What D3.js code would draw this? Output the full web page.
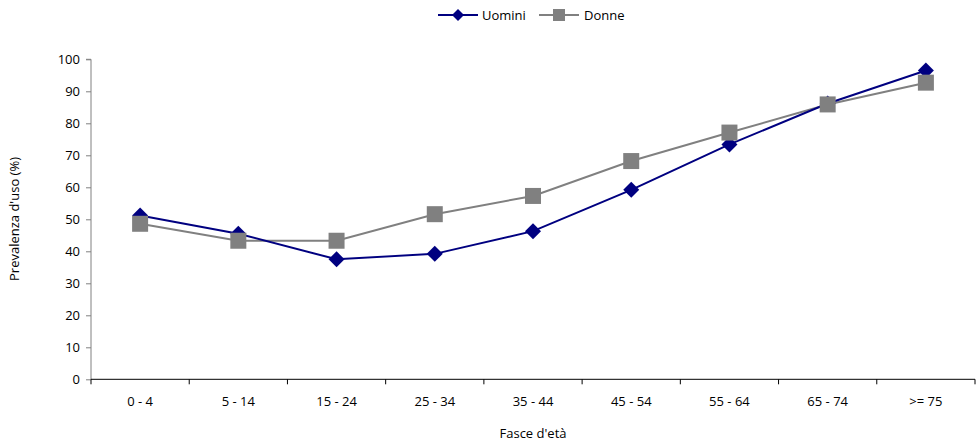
<!DOCTYPE html>
<html><head><meta charset="utf-8">
<script src="https://cdn.jsdelivr.net/npm/d3@7"></script>
<style>body{margin:0;background:#fff}svg{display:block}text{font-family:"Open Sans",sans-serif;fill:#000}</style>
</head><body>
<svg id="c" width="976" height="442"></svg>
<script>
const categories = ["0 - 4","5 - 14","15 - 24","25 - 34","35 - 44","45 - 54","55 - 64","65 - 74",">= 75"];
const uomini = [51.2, 45.5, 37.5, 39.2, 46.3, 59.2, 73.4, 86.2, 96.5];
const donne  = [48.6, 43.3, 43.3, 51.6, 57.3, 68.2, 77.1, 85.9, 92.7];
const yTicks = [0,10,20,30,40,50,60,70,80,90,100];
const seriesNames = ["Uomini","Donne"];

const FF = "'Open Sans',sans-serif";
const FS = 13;
const svg = d3.select("#c");
const L = 91, R = 975, T = 59.3, B = 379.3;
const x = d3.scaleBand().domain(categories).range([L, R]);
const y = d3.scaleLinear().domain([0,100]).range([B, T]);

// y axis
const ya = svg.append("g").attr("transform",`translate(${L},0)`)
  .call(d3.axisLeft(y).tickValues(yTicks).tickSize(5).tickPadding(6));
ya.select(".domain").attr("stroke","#808080").attr("d",`M-5,${T}H0V${B}`);
ya.selectAll(".tick line").attr("stroke","#808080");
ya.selectAll(".tick text").attr("font-size",FS).style("font-family",FF);

// x axis
const xa = svg.append("g").attr("transform",`translate(0,${B})`)
  .call(d3.axisBottom(x).tickSize(0).tickPadding(17));
xa.select(".domain").attr("stroke","#000").attr("d",`M${L},0H${R}`);
xa.selectAll(".tick text").attr("font-size",FS).style("font-family",FF);
const bounds = categories.map(c => x(c)).concat([R]);
xa.selectAll(".btick").data(bounds).enter().append("line")
  .attr("x1",d=>d).attr("x2",d=>d).attr("y1",0).attr("y2",5).attr("stroke","#000");

// lines
const line = d3.line().x((d,i)=>x(categories[i]) + x.bandwidth()/2).y(d=>y(d));
svg.append("path").datum(donne).attr("d",line).attr("fill","none").attr("stroke","#808080").attr("stroke-width",2);
svg.append("path").datum(uomini).attr("d",line).attr("fill","none").attr("stroke","#000080").attr("stroke-width",2);

const diamond = (cx,cy,s)=>`M${cx},${cy-s}L${cx+s},${cy}L${cx},${cy+s}L${cx-s},${cy}Z`;
svg.selectAll(".dm").data(uomini).enter().append("path")
  .attr("d",(d,i)=>diamond(x(categories[i])+x.bandwidth()/2, y(d), 8)).attr("fill","#000080");
svg.selectAll(".sq").data(donne).enter().append("rect")
  .attr("x",(d,i)=>x(categories[i])+x.bandwidth()/2-8).attr("y",d=>y(d)-8)
  .attr("width",16).attr("height",16).attr("fill","#808080");

// legend
const lg = svg.append("g");
lg.append("line").attr("x1",438).attr("x2",478).attr("y1",15).attr("y2",15).attr("stroke","#000080").attr("stroke-width",2);
lg.append("path").attr("d",diamond(458,15,6)).attr("fill","#000080");
lg.append("text").attr("x",482).attr("y",19.5).attr("font-size",FS).text(seriesNames[0]);
lg.append("line").attr("x1",539).attr("x2",579).attr("y1",15).attr("y2",15).attr("stroke","#808080").attr("stroke-width",2);
lg.append("rect").attr("x",553).attr("y",9).attr("width",12).attr("height",12).attr("fill","#808080");
lg.append("text").attr("x",584).attr("y",19.5).attr("font-size",FS).text(seriesNames[1]);

// axis titles
svg.append("text").attr("transform","translate(19,219) rotate(-90)").attr("text-anchor","middle").attr("font-size",FS).text("Prevalenza d'uso (%)");
svg.append("text").attr("x",533).attr("y",438).attr("text-anchor","middle").attr("font-size",FS).text("Fasce d'età");
</script>
</body></html>
